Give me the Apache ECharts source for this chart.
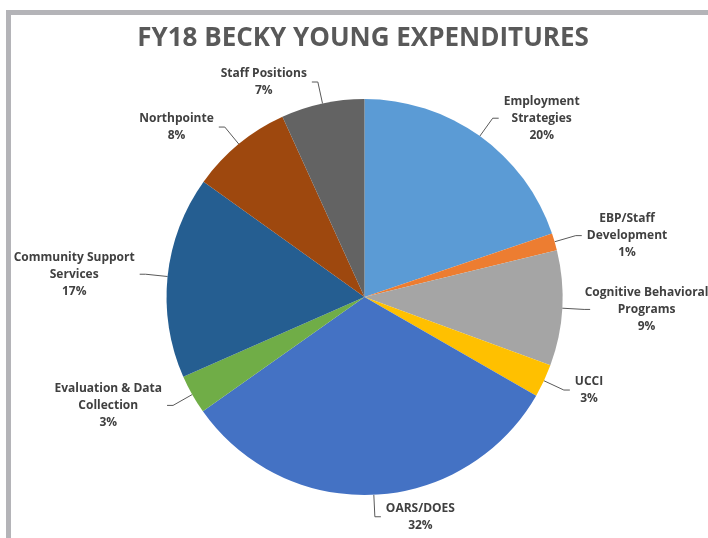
<!DOCTYPE html>
<html>
<head>
<meta charset="utf-8">
<script src="https://cdn.jsdelivr.net/npm/echarts@6/dist/echarts.min.js"></script>
<style>html,body{margin:0;padding:0;background:#fff;}#c{width:708px;height:538px;}</style>
</head>
<body>
<div id="c"></div>
<script>
const titleText = 'FY18 BECKY YOUNG EXPENDITURES';
const categories = ['Employment\nStrategies', 'EBP/Staff\nDevelopment', 'Cognitive Behavioral\nPrograms', 'UCCI', 'OARS/DOES', 'Evaluation & Data\nCollection', 'Community Support\nServices', 'Northpointe', 'Staff Positions'];
const values = [19.8, 1.4, 9.4, 2.7, 31.9, 3.2, 16.5, 8.3, 6.8];
const colors = ['#5B9BD5', '#ED7D31', '#A5A5A5', '#FFC000', '#4472C4', '#70AD47', '#255E91', '#9E480E', '#636363'];

const total = values.reduce((a, b) => a + b, 0);
const chart = echarts.init(document.getElementById('c'));
chart.setOption({
  animation: false,
  title: {
    text: titleText, left: 358, top: 21, textAlign: 'center',
    textStyle: { fontFamily: 'Open Sans', fontWeight: 'bold', fontSize: 26, color: '#595959' }
  },
  graphic: [
    { type: 'rect', shape: { x: 6, y: 10, width: 702, height: 5 }, style: { fill: '#B4B4B8' } },
    { type: 'rect', shape: { x: 6, y: 10, width: 5, height: 528 }, style: { fill: '#B4B4B8' } }
  ],
  series: [{
    type: 'pie',
    center: [364.5, 297],
    radius: 198,
    startAngle: 90,
    clockwise: true,
    data: categories.map((n, i) => ({ name: n, value: values[i], itemStyle: { color: colors[i] } })),
    itemStyle: { borderColor: '#fff', borderWidth: 0 },
    label: {
      show: true,
      position: 'outside',
      overflow: 'none',
      formatter: p => p.name.split('\n').map(s => '{c|' + s + '}').join('\n') + '\n{c|' + Math.round(p.value / total * 100) + '%}',
      rich: { c: { align: 'center', fontFamily: 'Open Sans', fontWeight: 'bold', fontSize: 12, color: '#404040', lineHeight: 17 } }
    },
    labelLine: { show: true, length: 22, length2: 6, lineStyle: { color: '#595959', width: 1 } }
  }]
});
</script>
</body>
</html>
